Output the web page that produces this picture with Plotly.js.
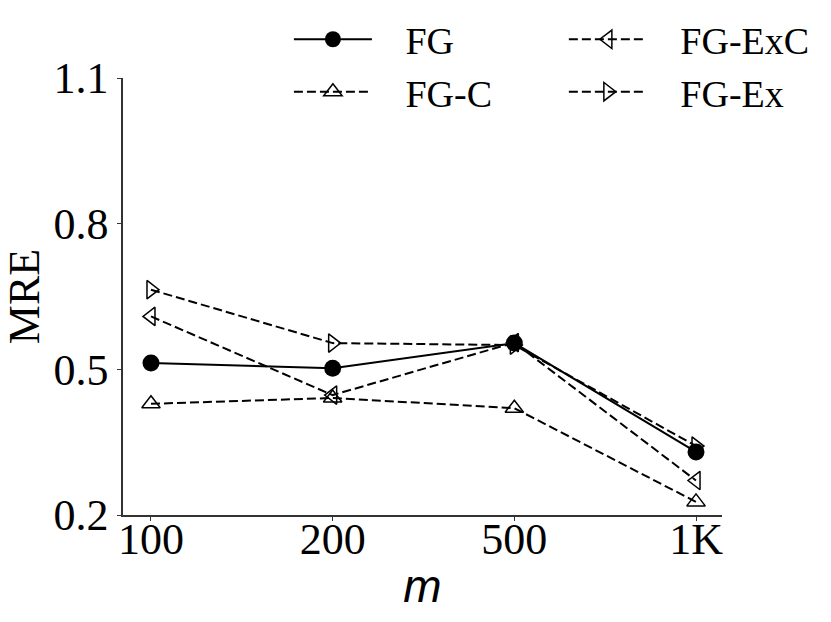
<!DOCTYPE html>
<html>
<head>
<meta charset="utf-8">
<script src="https://cdn.plot.ly/plotly-3.0.1.min.js"></script>
<style>
  body { margin: 0; background: #fff; }
  #plot { width: 831px; height: 622px; }
</style>
</head>
<body>
<div id="plot"></div>
<script>
// MRE vs m for the four FG variants

let mLabels = ["100", "200", "500", "1K"];

let fg    = [0.513, 0.502, 0.554, 0.330];
let fgC   = [0.429, 0.441, 0.420, 0.227];
let fgExC = [0.609, 0.447, 0.555, 0.271];
let fgEx  = [0.664, 0.554, 0.550, 0.342];

let yTicks = [0.2, 0.5, 0.8, 1.1];

let dashed = "9px,4px";
// pad between legend line sample and its label
let pad = "\u00a0\u00a0\u00a0";

// FG - solid line, filled circle
let trace1 = {
  x: mLabels, y: fg, name: pad + "FG", mode: "lines+markers",
  line: {color: "black", width: 2},
  marker: {symbol: "circle", size: 17, color: "black"},
  legend: "legend"
};

// FG-C - dashed, open up triangle
let trace2 = {
  x: mLabels, y: fgC, name: pad + "FG-C", mode: "lines+markers",
  line: {color: "black", width: 2, dash: dashed},
  marker: {symbol: "triangle-up-open", size: 16, color: "black", line: {width: 1.5}},
  legend: "legend"
};

// FG-ExC - dashed, open left triangle
let trace3 = {
  x: mLabels, y: fgExC, name: pad + "FG-ExC", mode: "lines+markers",
  line: {color: "black", width: 2, dash: dashed},
  marker: {symbol: "triangle-left-open", size: 16, color: "black", line: {width: 1.5}},
  legend: "legend2"
};

// FG-Ex - dashed, open right triangle
let trace4 = {
  x: mLabels, y: fgEx, name: pad + "FG-Ex", mode: "lines+markers",
  line: {color: "black", width: 2, dash: dashed},
  marker: {symbol: "triangle-right-open", size: 16, color: "black", line: {width: 1.5}},
  legend: "legend2"
};

let data = [trace1, trace2, trace3, trace4];

let legendBase = {
  orientation: "v",
  yanchor: "top", xanchor: "left",
  y: 1.16,
  itemwidth: 78,
  font: {size: 38},
  bgcolor: "rgba(0,0,0,0)",
  borderwidth: 0
};

let layout = {
  width: 831,
  height: 622,
  margin: {l: 123, r: 109, t: 78, b: 107, autoexpand: false},
  paper_bgcolor: "white",
  plot_bgcolor: "white",
  font: {family: "Liberation Serif, Times New Roman, serif", color: "black", size: 38},
  showlegend: true,
  legend: Object.assign({}, legendBase, {x: 0.277}),
  legend2: Object.assign({}, legendBase, {x: 0.736}),
  xaxis: {
    type: "category",
    range: [-0.154, 3.143],
    showline: true, linecolor: "#333", linewidth: 1.5,
    ticks: "outside", ticklen: 4, tickwidth: 1, tickcolor: "#333",
    ticklabelstandoff: -20,
    showgrid: false, zeroline: false,
    tickfont: {size: 44},
    title: {text: "m", font: {family: "Liberation Sans, Arial, sans-serif", size: 46, style: "italic"}, standoff: 7}
  },
  yaxis: {
    range: [0.2, 1.1],
    tickvals: yTicks,
    tickformat: ".1f",
    showline: true, linecolor: "#333", linewidth: 1.5,
    ticks: "outside", ticklen: 4, tickwidth: 1, tickcolor: "#333",
    showgrid: false, zeroline: false,
    tickfont: {size: 44},
    title: {text: "MRE", font: {size: 44}, standoff: 4}
  }
};

Plotly.newPlot("plot", data, layout, {displayModeBar: false});
</script>
</body>
</html>
